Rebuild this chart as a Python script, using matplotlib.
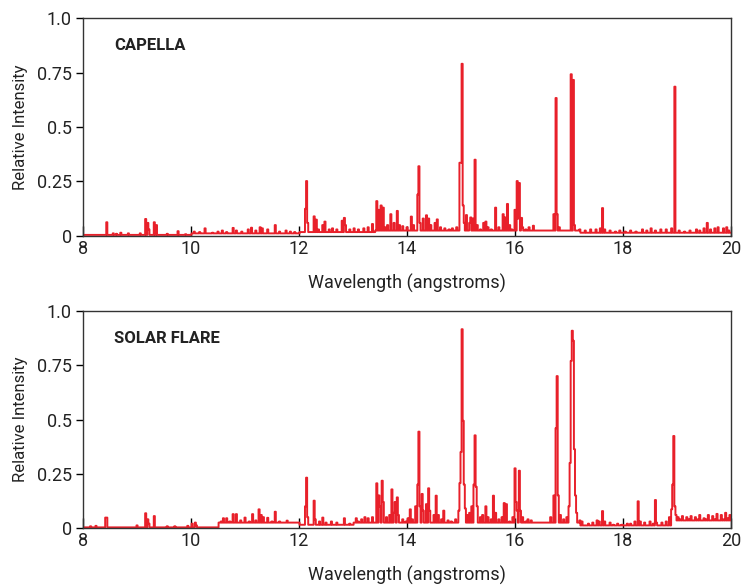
import numpy as np
import matplotlib
matplotlib.use("Agg")
import matplotlib.pyplot as plt

plt.rcParams['font.family'] = ['Roboto', 'DejaVu Sans']

RED = '#e8202a'
BIN = 0.02

# continuum level per wavelength segment (edges in angstroms)
capella_cont_edges = [8.0, 10.0, 12.0, 13.4, 17.2, 20.0]
capella_cont_levels = [0.005, 0.012, 0.018, 0.025, 0.015]

# emission lines: wavelength (A) and peak relative intensity
capella_wl = [8.44, 8.55, 8.62, 8.70, 8.85, 9.05, 9.17, 9.20, 9.22, 9.33, 9.36, 9.55, 9.75, 9.90,
              10.05, 10.15, 10.27, 10.40, 10.50, 10.58, 10.65, 10.78, 10.83, 10.95, 11.05, 11.12,
              11.20, 11.28, 11.33, 11.42, 11.55, 11.65, 11.75, 11.85, 11.92,
              12.12, 12.14, 12.16, 12.28, 12.32, 12.36, 12.45, 12.47, 12.55, 12.62, 12.70, 12.80,
              12.83, 12.86, 12.95, 13.02, 13.10, 13.20, 13.28, 13.35,
              13.45, 13.48, 13.52, 13.55, 13.60, 13.65, 13.70, 13.75, 13.82, 13.86, 13.92, 14.00,
              14.07, 14.12, 14.20, 14.22, 14.25, 14.30, 14.37, 14.40, 14.45, 14.52, 14.57, 14.62,
              14.70, 14.78, 14.85, 14.92, 14.98, 15.00, 15.02, 15.04, 15.06, 15.10, 15.15, 15.18,
              15.22, 15.26, 15.30, 15.35, 15.42, 15.46, 15.50, 15.56, 15.65, 15.70, 15.78, 15.82,
              15.86, 15.90, 15.95, 16.00, 16.03, 16.06, 16.09, 16.12, 16.15, 16.20, 16.27, 16.34,
              16.40, 16.50, 16.60, 16.66, 16.73, 16.75, 16.77, 16.79, 16.83, 16.90, 17.00, 17.03,
              17.05, 17.07, 17.09, 17.11, 17.20,
              17.30, 17.40, 17.50, 17.58, 17.62, 17.66, 17.75, 17.85, 17.95, 18.05, 18.15, 18.25,
              18.35, 18.45, 18.52, 18.60, 18.70, 18.80, 18.90, 18.95, 18.97, 19.05, 19.15, 19.25,
              19.35, 19.42, 19.50, 19.55, 19.62, 19.70, 19.77, 19.85, 19.92, 19.97]
capella_amp = [0.063, 0.012, 0.010, 0.015, 0.012, 0.012, 0.078, 0.060, 0.030, 0.063, 0.050, 0.010, 0.022, 0.008,
               0.020, 0.018, 0.035, 0.015, 0.020, 0.025, 0.018, 0.037, 0.025, 0.020, 0.030, 0.038,
               0.025, 0.040, 0.035, 0.030, 0.050, 0.020, 0.025, 0.020, 0.018,
               0.125, 0.252, 0.060, 0.090, 0.075, 0.030, 0.050, 0.066, 0.030, 0.035, 0.030, 0.070,
               0.083, 0.050, 0.030, 0.035, 0.030, 0.035, 0.040, 0.055,
               0.160, 0.120, 0.140, 0.130, 0.040, 0.050, 0.100, 0.060, 0.115, 0.050, 0.045, 0.040,
               0.089, 0.050, 0.190, 0.320, 0.060, 0.080, 0.095, 0.080, 0.050, 0.060, 0.076, 0.040,
               0.035, 0.030, 0.035, 0.040, 0.336, 0.336, 0.790, 0.140, 0.060, 0.096, 0.060, 0.085,
               0.080, 0.350, 0.050, 0.030, 0.060, 0.066, 0.040, 0.030, 0.130, 0.040, 0.100, 0.085,
               0.147, 0.050, 0.030, 0.120, 0.252, 0.080, 0.243, 0.083, 0.040, 0.030, 0.040, 0.047,
               0.020, 0.015, 0.020, 0.012, 0.100, 0.100, 0.633, 0.100, 0.040, 0.025, 0.025, 0.040,
               0.742, 0.550, 0.716, 0.050, 0.030,
               0.025, 0.030, 0.030, 0.035, 0.128, 0.030, 0.025, 0.020, 0.025, 0.020, 0.025, 0.020,
               0.030, 0.025, 0.035, 0.025, 0.030, 0.030, 0.035, 0.685, 0.050, 0.025, 0.020, 0.025,
               0.030, 0.025, 0.035, 0.060, 0.030, 0.035, 0.040, 0.035, 0.040, 0.025]

flare_cont_edges = [8.0, 10.5, 12.0, 13.0, 17.2, 18.9, 20.0]
flare_cont_levels = [0.003, 0.025, 0.015, 0.025, 0.012, 0.035]

flare_wl = [8.13, 8.25, 8.42, 8.44, 9.00, 9.17, 9.20, 9.22, 9.31, 9.33, 9.55, 9.70, 9.95, 10.03,
            10.07, 10.10,
            10.55, 10.60, 10.65, 10.72, 10.78, 10.85, 10.92, 11.01, 11.07, 11.13, 11.20, 11.26,
            11.30, 11.34, 11.43, 11.50, 11.57, 11.65, 11.78, 11.85, 11.95,
            12.12, 12.14, 12.16, 12.28, 12.30, 12.38, 12.44, 12.50, 12.60, 12.70, 12.85, 12.95,
            13.05, 13.10, 13.15, 13.22, 13.28, 13.35,
            13.44, 13.47, 13.50, 13.54, 13.57, 13.62, 13.68, 13.72, 13.75, 13.78, 13.82, 13.85,
            13.92, 13.98, 14.03, 14.06, 14.10, 14.15, 14.20, 14.22, 14.25, 14.27, 14.30, 14.35,
            14.39, 14.42, 14.50, 14.54, 14.58, 14.65, 14.69, 14.75, 14.82, 14.90, 14.96, 14.98,
            15.00, 15.02, 15.04, 15.06, 15.08, 15.12, 15.16, 15.20, 15.24, 15.26, 15.28, 15.30,
            15.35, 15.40, 15.46, 15.50, 15.56, 15.61, 15.64, 15.70, 15.76, 15.81, 15.85, 15.90,
            15.96, 15.99, 16.02, 16.04, 16.07, 16.10, 16.15, 16.20, 16.25, 16.30, 16.40, 16.50,
            16.60, 16.66, 16.72, 16.76, 16.78, 16.80, 16.84, 16.90, 16.96, 17.00, 17.02, 17.04,
            17.06, 17.08, 17.10, 17.12, 17.15, 17.20, 17.25,
            17.35, 17.45, 17.52, 17.57, 17.62, 17.66, 17.75, 17.82, 17.90, 17.98, 18.08, 18.15,
            18.22, 18.29, 18.32, 18.40, 18.50, 18.56, 18.59, 18.63, 18.72, 18.80, 18.86, 18.90,
            18.92, 18.94, 18.96, 18.98,
            19.02, 19.06, 19.10, 19.14, 19.18, 19.22, 19.26, 19.30, 19.34, 19.38, 19.42, 19.46,
            19.50, 19.54, 19.58, 19.62, 19.66, 19.70, 19.74, 19.78, 19.82, 19.86, 19.90, 19.94,
            19.98]
flare_amp = [0.008, 0.010, 0.048, 0.048, 0.012, 0.068, 0.040, 0.020, 0.055, 0.040, 0.008, 0.008, 0.010, 0.020,
             0.025, 0.012,
             0.030, 0.045, 0.045, 0.030, 0.064, 0.064, 0.035, 0.048, 0.030, 0.064, 0.035, 0.086,
             0.060, 0.050, 0.047, 0.030, 0.075, 0.030, 0.034, 0.025, 0.020,
             0.100, 0.232, 0.050, 0.126, 0.040, 0.030, 0.048, 0.025, 0.030, 0.025, 0.045, 0.020,
             0.045, 0.030, 0.040, 0.050, 0.045, 0.050,
             0.206, 0.150, 0.100, 0.218, 0.120, 0.050, 0.060, 0.178, 0.070, 0.120, 0.141, 0.060,
             0.040, 0.030, 0.045, 0.086, 0.040, 0.100, 0.200, 0.444, 0.100, 0.157, 0.080, 0.110,
             0.183, 0.080, 0.060, 0.149, 0.060, 0.040, 0.080, 0.035, 0.030, 0.040, 0.080, 0.207,
             0.350, 0.916, 0.494, 0.200, 0.090, 0.060, 0.070, 0.100, 0.200, 0.427, 0.190, 0.100,
             0.050, 0.060, 0.100, 0.050, 0.040, 0.149, 0.070, 0.040, 0.050, 0.115, 0.110, 0.030,
             0.050, 0.275, 0.120, 0.080, 0.264, 0.080, 0.050, 0.030, 0.040, 0.035, 0.020, 0.015,
             0.015, 0.050, 0.150, 0.460, 0.700, 0.150, 0.060, 0.040, 0.050, 0.100, 0.300, 0.770,
             0.909, 0.863, 0.363, 0.150, 0.070, 0.035, 0.030,
             0.020, 0.025, 0.035, 0.030, 0.078, 0.030, 0.025, 0.015, 0.020, 0.015, 0.020, 0.020,
             0.030, 0.123, 0.030, 0.025, 0.030, 0.020, 0.129, 0.025, 0.025, 0.030, 0.050, 0.086,
             0.200, 0.424, 0.100, 0.060,
             0.050, 0.040, 0.055, 0.030, 0.050, 0.040, 0.055, 0.035, 0.050, 0.040, 0.060, 0.030,
             0.045, 0.040, 0.060, 0.035, 0.055, 0.040, 0.065, 0.035, 0.060, 0.040, 0.070, 0.045,
             0.060]

panel_names = ['CAPELLA', 'SOLAR FLARE']
xticks = [8, 10, 12, 14, 16, 18, 20]
yticks = [0, 0.25, 0.5, 0.75, 1.0]
ytick_labels = ['0', '0.25', '0.5', '0.75', '1.0']


def binned(edges, levels, wl, amp):
    centers = np.arange(8.0, 20.0 + BIN / 2, BIN)
    idx = np.clip(np.searchsorted(edges, centers, side='right') - 1, 0, len(levels) - 1)
    flux = np.array(levels)[idx]
    for w, a in zip(wl, amp):
        i = int(round((w - 8.0) / BIN))
        flux[i] = max(flux[i], a)
    return centers, flux


fig = plt.figure(figsize=(7.44, 5.85), dpi=100)
ax_top = fig.add_axes([0.1116, 0.5966, 0.871, 0.3726])
ax_bot = fig.add_axes([0.1116, 0.0974, 0.871, 0.371])

spectra = [(capella_cont_edges, capella_cont_levels, capella_wl, capella_amp),
           (flare_cont_edges, flare_cont_levels, flare_wl, flare_amp)]

for ax, name, spec in zip([ax_top, ax_bot], panel_names, spectra):
    x, y = binned(*spec)
    ax.plot(x, y, color=RED, lw=1.4, drawstyle='steps-mid')
    ax.set_xlim(8, 20)
    ax.set_ylim(0, 1.0)
    ax.set_xticks(xticks)
    ax.set_yticks(yticks)
    ax.set_yticklabels(ytick_labels)
    ax.tick_params(axis='x', direction='in', length=7, width=1, labelsize=13, pad=3,
                   labelcolor='#222222')
    ax.tick_params(axis='y', direction='out', length=5, width=1, labelsize=13, pad=3,
                   labelcolor='#222222')
    for s in ax.spines.values():
        s.set_color('#333333')
        s.set_linewidth(1)
    ax.set_xlabel('Wavelength (angstroms)', fontsize=13, labelpad=11, color='#222222')
    ax.set_ylabel('Relative Intensity', fontsize=12, labelpad=6, color='#222222')
    ax.text(0.048, 0.875, name, transform=ax.transAxes, fontsize=12,
            fontweight='bold', va='center', ha='left', color='#222222')

fig.savefig('out.png', dpi=100)
